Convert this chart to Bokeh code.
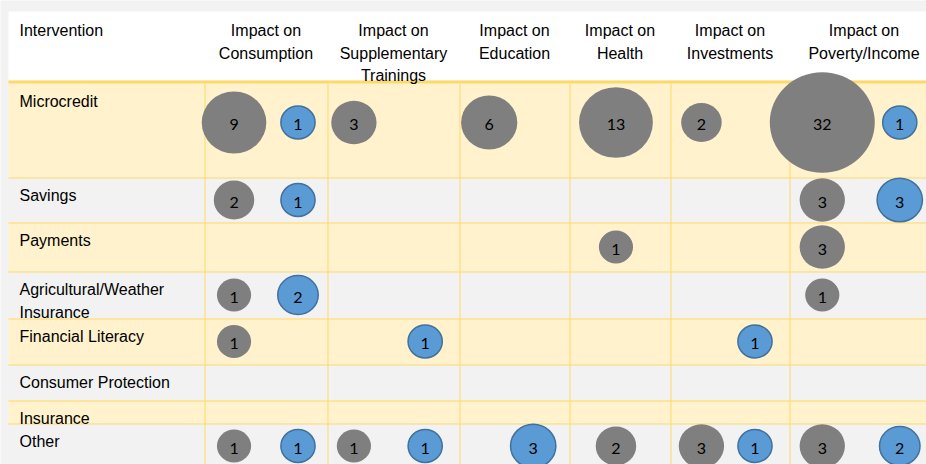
import math
from bokeh.plotting import figure
from bokeh.models import Range1d, ColumnDataSource
from bokeh.embed import file_html
from bokeh.resources import INLINE
from bokeh.core.properties import value

# ---------------- data ----------------
interventions = ["Microcredit", "Savings", "Payments", "Agricultural/Weather\nInsurance",
                 "Financial Literacy", "Consumer Protection", "Insurance", "Other"]
impacts = ["Impact on\nConsumption", "Impact on\nSupplementary\nTrainings", "Impact on\nEducation",
           "Impact on\nHealth", "Impact on\nInvestments", "Impact on\nPoverty/Income"]
first_header = "Intervention"

grey_counts = [
    [9, 3, 6, 13, 2, 32],
    [2, None, None, None, None, 3],
    [None, None, None, 1, None, 3],
    [1, None, None, None, None, 1],
    [1, None, None, None, None, None],
    [None, None, None, None, None, None],
    [None, None, None, None, None, None],
    [1, 1, None, 2, 3, 3],
]
blue_counts = [
    [1, None, None, None, None, 1],
    [1, None, None, None, None, 3],
    [None, None, None, None, None, None],
    [2, None, None, None, None, None],
    [None, 1, None, None, 1, None],
    [None, None, None, None, None, None],
    [None, None, None, None, None, None],
    [1, 1, 3, None, 1, 2],
]

# ---------------- layout ----------------
X0, X1, Y0, Y1 = 0, 926, 0, 464
col_edges = [8, 204, 327, 459, 569, 670, 789, 938]
row_edges = [83, 177, 222, 271, 318, 364, 400, 423, 468]
header_top, header_line = 11, 80
grey_frac = [0.24, 0.20, 0.27, 0.46, 0.26, 0.22]
blue_frac = [0.76, 0.74, 0.67, 0.75, 0.71, 0.74]
line_h = 22.6

GOLD = "#ffd966"
YELLOW = "#fff2cc"
LIGHT = "#f2f2f2"
GREY = "#7f7f7f"
BLUE = "#5b9bd5"
BLUE_EDGE = "#41719c"


def diam(v):
    return 19 + 15.2 * math.sqrt(v)


p = figure(width=X1 - X0, height=Y1 - Y0, output_backend="svg", toolbar_location=None,
           x_range=Range1d(X0, X1), y_range=Range1d(Y1, Y0),
           x_axis_location=None, y_axis_location=None, min_border=0)
p.grid.visible = False
p.outline_line_color = None
p.background_fill_color = LIGHT
p.border_fill_color = LIGHT

# header background
p.quad(left=[col_edges[0]], right=[col_edges[-1]], top=[header_top], bottom=[header_line],
       fill_color="white", line_color=None)

# row backgrounds
n_rows = len(interventions)
p.quad(left=[col_edges[0]] * n_rows, right=[col_edges[-1]] * n_rows,
       top=row_edges[:-1], bottom=row_edges[1:],
       fill_color=[YELLOW if i % 2 == 0 else LIGHT for i in range(n_rows)], line_color=None)

# thick header rule
p.quad(left=[col_edges[0]], right=[col_edges[-1]], top=[header_line], bottom=[row_edges[0]],
       fill_color=GOLD, line_color=None)

# horizontal grid lines
hy = [e + 0.5 for e in row_edges[1:-1]]
p.segment(x0=[col_edges[0]] * len(hy), x1=[col_edges[-1]] * len(hy), y0=hy, y1=hy,
          line_color=GOLD, line_width=1)
# vertical grid lines
vx = [e + 0.5 for e in col_edges[1:-1]]
p.segment(x0=vx, x1=vx, y0=[row_edges[0]] * len(vx), y1=[row_edges[-1]] * len(vx),
          line_color=GOLD, line_width=1)

# bubbles
def bubble_data(counts, frac):
    xs, ys, ds, labels = [], [], [], []
    for r in range(n_rows):
        top, bot = row_edges[r], row_edges[r + 1]
        cy = top + min((bot - top) / 2, 39)
        for c in range(len(impacts)):
            v = counts[r][c]
            if v is None:
                continue
            left, right = col_edges[c + 1], col_edges[c + 2]
            xs.append(left + frac[c] * (right - left))
            ys.append(cy)
            ds.append(diam(v))
            labels.append(str(v))
    return ColumnDataSource(dict(x=xs, y=ys, w=ds, h=[d * 0.96 for d in ds],
                                 ty=[y + 2 for y in ys], label=labels))

gsrc = bubble_data(grey_counts, grey_frac)
bsrc = bubble_data(blue_counts, blue_frac)

p.ellipse(x="x", y="y", width="w", height="h", source=gsrc, fill_color=GREY, line_color=None)
p.ellipse(x="x", y="y", width="w", height="h", source=bsrc, fill_color=BLUE,
          line_color=BLUE_EDGE, line_width=1.5)
for src in (gsrc, bsrc):
    p.text(x="x", y="ty", text="label", source=src, text_font=value("Lato"),
           text_font_size="16px", text_color="black", text_align="center",
           text_baseline="middle")

# header texts
hx, hy_, ht = [19], [30], [first_header]
for c, name in enumerate(impacts):
    cx = (col_edges[c + 1] + col_edges[c + 2]) / 2
    for i, line in enumerate(name.split("\n")):
        hx.append(cx)
        hy_.append(30 + i * line_h)
        ht.append(line)
align = ["left"] + ["center"] * (len(hx) - 1)
p.text(x=hx, y=hy_, text=ht, text_align=align, text_baseline="alphabetic",
       text_font=value("Liberation Sans"), text_font_size="16px", text_color="black")

# row labels
rx, ry, rt = [], [], []
for r, name in enumerate(interventions):
    for i, line in enumerate(name.split("\n")):
        rx.append(19)
        ry.append(row_edges[r] + 18 + i * line_h)
        rt.append(line)
p.text(x=rx, y=ry, text=rt, text_align="left", text_baseline="alphabetic",
       text_font=value("Liberation Sans"), text_font_size="16px", text_color="black")

html = file_html(p, INLINE)
open("out.html", "w").write(html)
